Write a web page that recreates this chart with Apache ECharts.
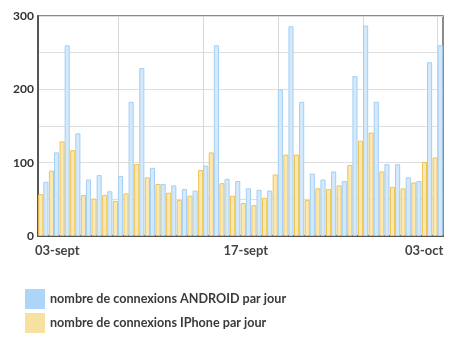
<!DOCTYPE html>
<html>
<head>
<meta charset="utf-8">
<script src="https://cdn.jsdelivr.net/npm/echarts@6/dist/echarts.min.js"></script>
<style>html,body{margin:0;padding:0;background:#fff}#c{width:462px;height:356px}</style>
</head>
<body>
<div id="c"></div>
<script>
const categories = ['03-sept','','','','','','','','','','','','','','','','','','','17-sept','','','','','','','','','','','','','','','','','','03-oct'];
const iphone = [57,89,129,117,56,51,56,48,58,98,80,71,59,49,55,90,114,72,55,45,42,52,84,111,111,49,65,64,69,97,130,141,88,67,65,73,101,107];
const android = [74,114,260,140,77,83,61,82,183,229,93,71,69,64,62,96,260,78,75,65,63,62,200,286,183,85,77,88,75,218,287,183,98,98,80,75,237,260];
const yTicks = [0,100,200,300];
const weekLines = [7,15,22,30,37];
const seriesNames = ['nombre de connexions ANDROID par jour','nombre de connexions IPhone par jour'];

const chart = echarts.init(document.getElementById('c'), null, {renderer:'canvas'});
const font = 'Lato, "Open Sans", sans-serif';
chart.setOption({
  animation: false,
  grid: {left: 38, right: 19, top: 16, bottom: 120, show: true, borderColor: '#666', borderWidth: 1.5},
  legend: {
    orient: 'vertical', left: 25, top: 289, padding: 0, itemWidth: 20, itemHeight: 20, itemGap: 4,
    icon: 'rect',
    textStyle: {fontFamily: font, fontSize: 12.6, fontWeight: 'bold', color: '#3a3a3a'},
    data: [
      {name: seriesNames[0], itemStyle: {color: '#acd5f7', borderWidth: 0}},
      {name: seriesNames[1], itemStyle: {color: '#f7e1a1', borderWidth: 0}}
    ]
  },
  xAxis: {
    type: 'category', data: categories, boundaryGap: true,
    axisLine: {lineStyle: {color: '#555', width: 2}},
    axisTick: {show: false},
    axisLabel: {
      interval: 0, margin: 8, color: '#444', fontFamily: font, fontSize: 13, fontWeight: 'bold',
      formatter: function (v, i) {
        if (i === 0) return '{f|' + v + '}';
        if (i === categories.length - 1) return '{l|' + v + '}';
        return v;
      },
      rich: {
        f: {padding: [0,0,0,28], fontFamily: font, fontSize: 13, fontWeight: 'bold', color: '#444'},
        l: {padding: [0,27,0,0], fontFamily: font, fontSize: 13, fontWeight: 'bold', color: '#444'}
      }
    },
    splitLine: {
      show: true, alignWithLabel: true,
      interval: function (i) { return weekLines.indexOf(i) >= 0; },
      lineStyle: {color: '#d8d8d8', width: 1}
    }
  },
  yAxis: {
    type: 'value', min: 0, max: 300, interval: 100,
    axisLine: {show: true, lineStyle: {color: '#555', width: 2}},
    axisTick: {show: false},
    axisLabel: {margin: 4, color: '#333', fontFamily: font, fontSize: 12, fontWeight: 'bold',
      formatter: function (v) { return yTicks.indexOf(v) >= 0 ? String(v) : ''; }},
    splitLine: {lineStyle: {color: '#dedede', width: 1}},
    minorTick: {show: false, splitNumber: 2},
    minorSplitLine: {show: true, lineStyle: {color: '#dedede', width: 1}}
  },
  series: [
    {name: seriesNames[1], type: 'bar', data: iphone, barGap: '0%', barCategoryGap: '4%',
      itemStyle: {color: '#fbe8b2', borderColor: '#efc352', borderWidth: 1}},
    {name: seriesNames[0], type: 'bar', data: android, barGap: '0%', barCategoryGap: '4%',
      itemStyle: {color: '#d4e9fb', borderColor: '#a5cff3', borderWidth: 1}}
  ]
});
</script>
</body>
</html>
